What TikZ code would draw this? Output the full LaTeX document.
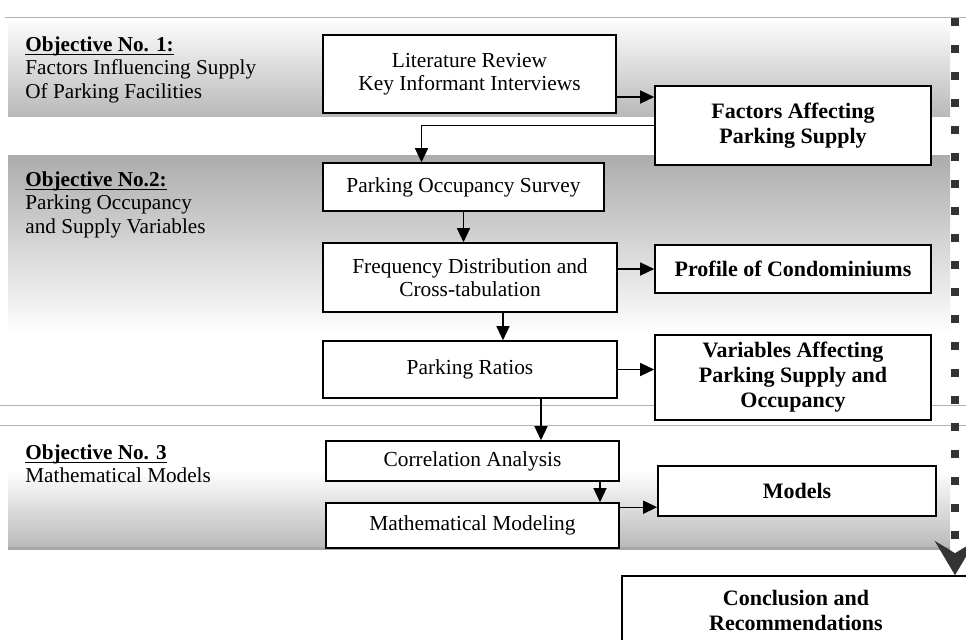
\documentclass[tikz,border=0pt]{standalone}
\usepackage{fontspec}
\setmainfont{Liberation Serif}
\usetikzlibrary{arrows.meta,positioning,calc}

\newcommand{\objhead}[1]{\underline{\textbf{\smash{#1}\vphantom{O}}}}

\begin{document}
\begin{tikzpicture}[
    x=0.5pt, y=-0.5pt,
    pbox/.style={rectangle, draw=black, fill=white, line width=0.8pt, align=center, font=\fontsize{10.7}{11.5}\selectfont, inner sep=2pt},
    rbox/.style={rectangle, draw=black, fill=white, line width=0.8pt, align=center, font=\fontsize{11}{12.5}\selectfont\bfseries, inner sep=2pt},
    obj/.style={anchor=north west, align=left, inner sep=0pt, font=\fontsize{10.6}{11.75}\selectfont},
    arr/.style={-{Triangle[length=7pt,width=6.5pt]}, line width=0.7pt},
    rule/.style={draw=gray!60, line width=0.5pt},
    dots/.style={line width=4pt, dash pattern=on 4pt off 9.5pt, draw=black!80, -{Stealth[length=17pt,width=20pt,inset=6pt]}}
]
    \useasboundingbox (0,0) rectangle (966,639);
    \clip (0,0) rectangle (966,639);

    \shade [top color=white, bottom color=gray!55] (8,17) rectangle (950,116);
    \shade [top color=gray!65, bottom color=white] (8,155) rectangle (950,335);
    \shade [top color=white, bottom color=gray!55] (8,470) rectangle (950,548);
    \draw [gray!70, line width=1.5pt] (8,548) -- (950,548);

    \draw [rule] (5,17) -- (966,17);
    \draw [rule] (0,405) -- (966,405);
    \draw [rule] (0,425) -- (966,425);

    \node [obj] (o1) at (25,37) {\objhead{Objective No. 1:}\\Factors Influencing Supply\\Of Parking Facilities};
    \node [obj] (o2) at (25,172) {\objhead{Objective No.2:}\\Parking Occupancy\\and Supply Variables};
    \node [obj] (o3) at (25,445) {\objhead{Objective No. 3}\\Mathematical Models};

    \node [pbox, minimum width=146.5pt, minimum height=39pt] (lit) at (469.5,74) {Literature Review\\Key Informant Interviews};
    \node [rbox, minimum width=138pt, minimum height=39.5pt] (fac) at (793,125.5) {Factors Affecting\\Parking Supply};
    \node [pbox, minimum width=140.5pt, minimum height=24pt] (occ) at (463.5,187) {Parking Occupancy Survey};
    \node [pbox, minimum width=147pt, minimum height=34.5pt] (freq) at (470,277.5) {Frequency Distribution and\\Cross-tabulation};
    \node [rbox, minimum width=138pt, minimum height=24pt] (prof) at (793,269) {Profile of Condominiums};
    \node [pbox, minimum width=147pt, minimum height=28.5pt] (rat) at (470,369.5) {Parking Ratios};
    \node [rbox, minimum width=138pt, minimum height=42.5pt] (var) at (793,377.5) {Variables Affecting\\Parking Supply and\\Occupancy};
    \node [pbox, minimum width=146.5pt, minimum height=20pt] (cor) at (472.5,461) {Correlation Analysis};
    \node [pbox, minimum width=146.5pt, minimum height=22.5pt] (mat) at (472.5,525.5) {Mathematical Modeling};
    \node [rbox, minimum width=139pt, minimum height=25pt] (mod) at (797,491) {Models};
    \node [rbox, minimum width=174pt, minimum height=34pt] (con) at (796,610) {Conclusion and\\Recommendations};

    \coordinate (l2f) at ($(lit.east)+(0,23)$);
    \draw [arr] (l2f) -- (l2f -| fac.west);
    \draw [arr] (fac.west) -| ([xshift=-21pt]occ.north);
    \draw [arr] (occ.south) -- (occ.south |- freq.north);
    \coordinate (f2r) at ([xshift=16.5pt]freq.south);
    \draw [arr] (f2r) -- (f2r |- rat.north);
    \draw [arr] (prof.west -| freq.east) -- (prof.west);
    \draw [arr] (rat.east) -- (rat.east -| var.west);
    \coordinate (r2c) at ([xshift=35.5pt]rat.south);
    \draw [arr] (r2c) -- (r2c |- cor.north);
    \coordinate (c2m) at ([xshift=63.75pt]cor.south);
    \draw [arr] (c2m) -- (c2m |- mat.north);
    \coordinate (m2m) at ([yshift=-2.5pt]mat.north east);
    \draw [arr] (m2m) -- (m2m -| mod.west);

    \coordinate (dtop) at (955,18);
    \draw [dots] (dtop) -- (dtop |- con.north);
\end{tikzpicture}
\end{document}
